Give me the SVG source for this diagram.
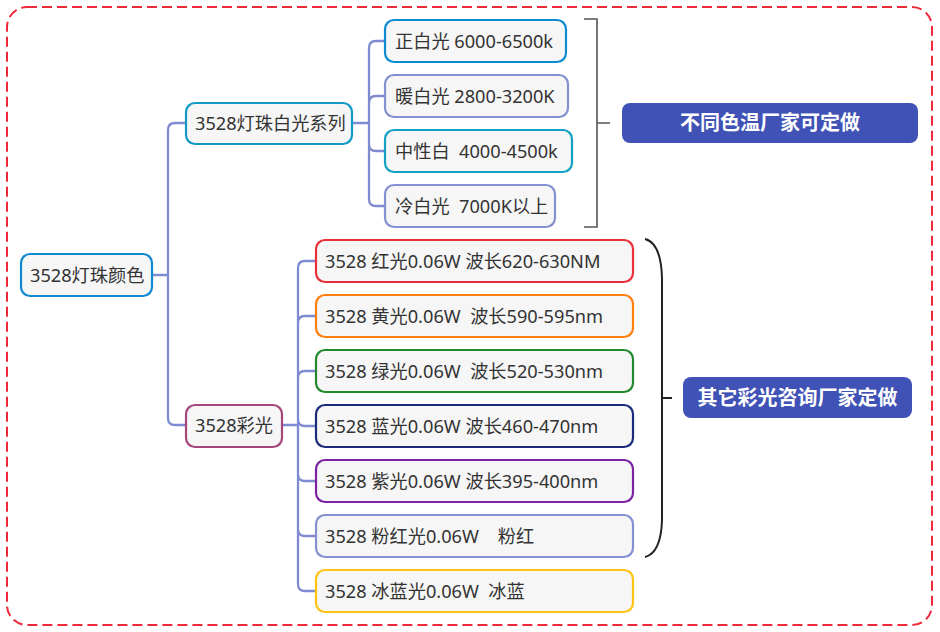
<svg xmlns="http://www.w3.org/2000/svg" width="940" height="632" viewBox="0 0 940 632">
<style>
.n{fill:#F6F6F6;stroke-width:2.2}
.t{font-family:"Noto Sans","Noto Sans CJK SC",sans-serif;font-size:18.2px;fill:#333;white-space:pre}
.lb{fill:#4052B5}
.lt{font-family:"Noto Sans CJK SC","Noto Sans",sans-serif;font-size:20px;font-weight:bold;fill:#fff;text-anchor:middle}
.c{fill:none;stroke:#7F8BD0;stroke-width:2.3;stroke-linecap:round}
</style>
<rect x="7" y="7" width="925" height="618" rx="20" fill="#fff" stroke="#EE2A3A" stroke-width="2" stroke-dasharray="10,5"/>
<g id="connectors">
<path class="c" d="M152,275 H168 M186,123 H175 Q168,123 168,130 V418 Q168,425 175,425 H186"/>
<path class="c" d="M352,123 H369 M385,41 H376 Q369,41 369,48 V199 Q369,206 376,206 H385 M369,103 Q369,96 376,96 H385 M369,144 Q369,151 376,151 H385"/>
<path class="c" d="M282,425 H298 M316,261 H305 Q298,261 298,268 V584 Q298,591 305,591 H316 M298,323 Q298,316 305,316 H316 M298,378 Q298,371 305,371 H316 M298,419 Q298,426 305,426 H316 M298,474 Q298,481 305,481 H316 M298,529 Q298,536 305,536 H316"/>
<path d="M584,19 H597 V227 H584 M597,123 H610" fill="none" stroke="#555" stroke-width="1.6"/>
<path d="M645,239 Q661,243 662,278 V520 Q661,553 645,557 M662,398 H672" fill="none" stroke="#222" stroke-width="2"/>
</g>
<g id="root"><rect class="n" x="21" y="254" width="131" height="42" rx="9" stroke="#1089D0"/><text class="t" x="30" y="281.5">3528灯珠颜色</text></g>
<g id="white"><rect class="n" x="186" y="103" width="166" height="41" rx="9" stroke="#1399C6"/><text class="t" x="195" y="130">3528灯珠白光系列</text></g>
<g id="w1"><rect class="n" x="385" y="20" width="181" height="42" rx="9" stroke="#0B8BD0"/><text class="t" x="395" y="47.5">正白光 6000-6500k</text></g>
<g id="w2"><rect class="n" x="385" y="75" width="183" height="42" rx="9" stroke="#8590D0"/><text class="t" x="395" y="102.5">暖白光 2800-3200K</text></g>
<g id="w3"><rect class="n" x="385" y="130" width="187" height="42" rx="9" stroke="#12A0C4"/><text class="t" x="395" y="157.5">中性白  4000-4500k</text></g>
<g id="w4"><rect class="n" x="385" y="185" width="170" height="42" rx="9" stroke="#8590D0"/><text class="t" x="395" y="212.5">冷白光  7000K以上</text></g>
<g id="color"><rect class="n" x="186" y="405" width="96" height="42" rx="9" stroke="#A5477A"/><text class="t" x="195" y="432">3528彩光</text></g>
<g id="c1"><rect class="n" x="316" y="240" width="317" height="42" rx="9" stroke="#E8303A"/><text class="t" x="325" y="267.5">3528 红光0.06W 波长620-630NM</text></g>
<g id="c2"><rect class="n" x="316" y="295" width="317" height="42" rx="9" stroke="#FF7F0F"/><text class="t" x="325" y="322.5">3528 黄光0.06W  波长590-595nm</text></g>
<g id="c3"><rect class="n" x="316" y="350" width="317" height="42" rx="9" stroke="#22892E"/><text class="t" x="325" y="377.5">3528 绿光0.06W  波长520-530nm</text></g>
<g id="c4"><rect class="n" x="316" y="405" width="317" height="42" rx="9" stroke="#1B2A7A"/><text class="t" x="325" y="432.5">3528 蓝光0.06W 波长460-470nm</text></g>
<g id="c5"><rect class="n" x="316" y="460" width="317" height="42" rx="9" stroke="#7D22A3"/><text class="t" x="325" y="487.5">3528 紫光0.06W 波长395-400nm</text></g>
<g id="c6"><rect class="n" x="316" y="515" width="317" height="42" rx="9" stroke="#8590D0"/><text class="t" x="325" y="542.5">3528 粉红光0.06W    粉红</text></g>
<g id="c7"><rect class="n" x="316" y="570" width="317" height="42" rx="9" stroke="#FFC312"/><text class="t" x="325" y="597.5">3528 冰蓝光0.06W  冰蓝</text></g>
<g id="label1"><rect class="lb" x="622" y="103" width="296" height="40" rx="8"/><text class="lt" x="770" y="130">不同色温厂家可定做</text></g>
<g id="label2"><rect class="lb" x="683" y="377" width="229" height="41" rx="8"/><text class="lt" x="797.5" y="405">其它彩光咨询厂家定做</text></g>
</svg>
